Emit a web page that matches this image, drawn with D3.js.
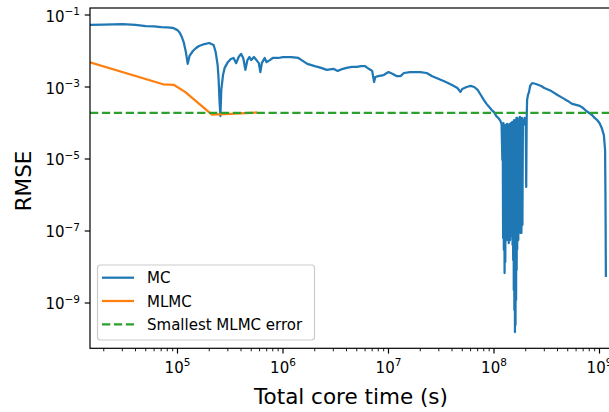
<!DOCTYPE html>
<html>
<head>
<meta charset="utf-8">
<script src="https://cdn.jsdelivr.net/npm/d3@7"></script>
<style>
  html, body { margin: 0; padding: 0; background: #fff; }
  svg { display: block; font-family: "DejaVu Sans", sans-serif; }
</style>
</head>
<body>
<svg id="chart" width="609" height="412"></svg>
<script>
// Monte Carlo run: total core time (s) against RMSE
const mcTime = [
  1.48e4, 2e4, 3e4, 4e4, 5e4, 6e4, 7e4, 8e4, 9e4,
  1e5, 1.05e5, 1.1e5, 1.15e5, 1.2e5, 1.25e5, 1.3e5, 1.4e5, 1.5e5, 1.6e5, 1.8e5,
  2e5, 2.2e5, 2.3e5, 2.4e5, 2.45e5, 2.5e5, 2.55e5, 2.6e5, 2.7e5, 2.8e5,
  3e5, 3.2e5, 3.4e5, 3.6e5, 3.8e5, 4e5, 4.2e5, 4.4e5, 4.6e5, 4.8e5,
  5e5, 5.3e5, 5.6e5, 5.9e5, 6.1e5, 6.3e5, 6.7e5, 7e5, 7.5e5, 8e5, 9e5,
  1e6, 1.2e6, 1.4e6, 1.5e6, 1.7e6, 2e6, 2.3e6, 2.6e6, 3e6, 3.3e6, 3.7e6, 4e6,
  4.5e6, 5e6, 5.5e6, 6e6, 6.5e6, 7e6, 7.3e6, 7.5e6, 8e6, 9e6,
  1e7, 1.1e7, 1.2e7, 1.3e7, 1.4e7, 1.6e7, 1.8e7, 2e7, 2.3e7, 2.6e7, 3e7, 3.5e7,
  4e7, 4.5e7, 4.8e7, 5e7, 5.5e7, 6e7, 6.5e7, 7e7, 7.5e7, 8e7, 8.5e7, 9e7, 9.5e7,
  1e8, 1.05e8, 1.1e8, 1.15e8, 1.18e8,
  1.20e8, 1.21e8, 1.22e8, 1.23e8, 1.24e8, 1.25e8, 1.26e8, 1.27e8, 1.28e8, 1.29e8,
  1.30e8, 1.31e8, 1.32e8, 1.33e8, 1.34e8, 1.35e8, 1.36e8, 1.37e8, 1.38e8, 1.39e8,
  1.40e8, 1.41e8, 1.42e8, 1.43e8, 1.44e8, 1.45e8, 1.46e8, 1.47e8, 1.48e8, 1.49e8,
  1.50e8, 1.51e8, 1.52e8, 1.53e8, 1.54e8, 1.55e8, 1.56e8, 1.57e8, 1.58e8, 1.59e8,
  1.60e8, 1.61e8, 1.62e8, 1.63e8, 1.64e8, 1.65e8, 1.66e8, 1.67e8, 1.68e8, 1.69e8,
  1.70e8, 1.72e8, 1.74e8, 1.76e8, 1.78e8, 1.80e8, 1.82e8, 1.84e8, 1.86e8, 1.88e8,
  1.90e8, 1.95e8, 2.00e8, 2.02e8, 2.04e8, 2.06e8, 2.10e8, 2.15e8, 2.20e8, 2.30e8,
  2.5e8, 2.8e8, 3e8, 3.5e8, 4e8, 4.5e8, 5e8, 5.5e8, 6e8, 6.5e8,
  7e8, 7.5e8, 8e8, 8.5e8, 9e8, 9.5e8, 1e9, 1.05e9, 1.1e9, 1.13e9, 1.14e9, 1.15e9
];
const mcRmse = [
  5.3e-2, 5.4e-2, 5.6e-2, 5.3e-2, 4.9e-2, 4.8e-2, 4.6e-2, 4.5e-2, 4.4e-2,
  3.8e-2, 3.2e-2, 2.45e-2, 1.67e-2, 9.4e-3, 4.4e-3, 7.3e-3, 1.0e-2, 1.21e-2, 1.38e-2, 1.56e-2,
  1.67e-2, 1.47e-2, 9.4e-3, 4.1e-3, 1.78e-3, 4.4e-4, 1.56e-4, 8.3e-4, 2.15e-3, 3.4e-3,
  4.9e-3, 6.0e-3, 6.4e-3, 4.6e-3, 6.8e-3, 8.3e-3, 6.4e-3, 3.0e-3, 5.6e-3, 6.8e-3,
  5.6e-3, 6.8e-3, 5.6e-3, 4.6e-3, 2.6e-3, 4.6e-3, 6.4e-3, 4.9e-3, 5.6e-3, 6.4e-3, 6.4e-3,
  6.8e-3, 6.8e-3, 6.4e-3, 5.6e-3, 4.4e-3, 3.8e-3, 3.4e-3, 3.0e-3, 3.2e-3, 2.8e-3, 3.2e-3, 3.4e-3,
  3.6e-3, 3.6e-3, 3.8e-3, 3.8e-3, 3.2e-3, 2.8e-3, 1.38e-3, 1.9e-3, 2.0e-3, 2.15e-3,
  2.6e-3, 2.3e-3, 2.0e-3, 2.0e-3, 2.45e-3, 2.6e-3, 2.6e-3, 2.6e-3, 2.45e-3, 2.0e-3, 1.67e-3, 1.38e-3,
  1.14e-3, 9.4e-4, 7.3e-4, 8.8e-4, 1.0e-3, 1.07e-3, 1.0e-3, 8.3e-4, 6.0e-4, 4.4e-4, 3.4e-4, 2.8e-4, 2.3e-4,
  2.0e-4, 1.56e-4, 1.38e-4, 1.14e-4, 9.4e-5,
  9.4e-6, 8.8e-5, 6.4e-8, 1.0e-4, 3.0e-8, 8.3e-5, 6.8e-9, 7.3e-5, 1.38e-8, 8.8e-5,
  1.07e-7, 7.7e-5, 5.6e-8, 9.4e-5, 7.7e-8, 8.3e-5, 1.0e-7, 8.8e-5, 4.6e-8, 7.7e-5,
  6.4e-8, 9.4e-5, 5.6e-8, 8.3e-5, 7.3e-8, 1.0e-4, 1.0e-7, 8.8e-5, 1.21e-7, 1.07e-4,
  4.1e-8, 9.4e-5, 1.56e-8, 1.07e-4, 2.3e-9, 1.21e-4, 6.4e-10, 1.14e-4, 1.56e-10, 1.0e-4,
  2.45e-10, 1.21e-4, 1.21e-9, 1.38e-4, 8.3e-9, 1.14e-4, 3.0e-8, 1.38e-4, 6.4e-8, 1.07e-4,
  5.6e-8, 1.21e-4, 1.0e-7, 1.47e-4, 8.8e-8, 1.29e-4, 8.8e-8, 1.38e-4, 1.47e-7, 1.21e-4,
  8.8e-5, 1.38e-4, 1.21e-4, 1.67e-6, 1.21e-4, 4.4e-4, 6.0e-4, 7.3e-4, 1.07e-3, 1.29e-3,
  1.21e-3, 1.07e-3, 9.4e-4, 7.7e-4, 6.0e-4, 4.9e-4, 4.1e-4, 3.4e-4, 3.2e-4, 3.0e-4,
  2.6e-4, 2.15e-4, 1.9e-4, 1.67e-4, 1.38e-4, 1.21e-4, 1.0e-4, 7.3e-5, 4.6e-5, 1.78e-5, 7.3e-7, 5.3e-9
];

// Multilevel Monte Carlo run
const mlmcTime = [1.48e4, 7.29e4, 9.27e4, 1.18e5, 2.12e5, 3.15e5, 5.67e5];
const mlmcRmse = [4.86e-3, 1.19e-3, 1.14e-3, 7.3e-4, 1.72e-4, 1.78e-4, 1.96e-4];

// Reference level: smallest error reached by MLMC
const smallestMlmcError = 1.9e-4;

const xMajorTicks = [1e5, 1e6, 1e7, 1e8, 1e9];
const xTickExponents = ["5", "6", "7", "8", "9"];
const yMajorTicks = [1e-1, 1e-3, 1e-5, 1e-7, 1e-9];
const yTickExponents = ["\u22121", "\u22123", "\u22125", "\u22127", "\u22129"];

const seriesNames = ["MC", "MLMC", "Smallest MLMC error"];
const seriesColors = ["#1f77b4", "#ff7f0e", "#2ca02c"];

const svg = d3.select("#chart");
const plot = { left: 90, right: 612, top: 8, bottom: 348.3 };

const x = d3.scaleLog().domain([1.481e4, 1.314e9]).range([plot.left, plot.right]);
const y = d3.scaleLog().domain([0.1565, 5.515e-11]).range([plot.top, plot.bottom]);

svg.append("defs").append("clipPath").attr("id", "plotClip")
  .append("rect")
  .attr("x", plot.left).attr("y", plot.top)
  .attr("width", plot.right - plot.left).attr("height", plot.bottom - plot.top);

const dataLayer = svg.append("g").attr("clip-path", "url(#plotClip)");

const line = d3.line().x(d => x(d[0])).y(d => y(d[1]));

const mcPoints = mcTime.map((t, i) => [t, mcRmse[i]]);
const mlmcPoints = mlmcTime.map((t, i) => [t, mlmcRmse[i]]);

dataLayer.append("path")
  .datum(mcPoints)
  .attr("d", line)
  .attr("fill", "none")
  .attr("stroke", seriesColors[0])
  .attr("stroke-width", 2.25)
  .attr("stroke-linejoin", "round");

dataLayer.append("path")
  .datum(mlmcPoints)
  .attr("d", line)
  .attr("fill", "none")
  .attr("stroke", seriesColors[1])
  .attr("stroke-width", 2.25)
  .attr("stroke-linejoin", "round");

dataLayer.append("line")
  .attr("x1", plot.left).attr("x2", plot.right)
  .attr("y1", y(smallestMlmcError)).attr("y2", y(smallestMlmcError))
  .attr("stroke", seriesColors[2])
  .attr("stroke-width", 2.25)
  .attr("stroke-dasharray", "8.3,3.6");

// Axes frame
svg.append("rect")
  .attr("x", plot.left).attr("y", plot.top)
  .attr("width", plot.right - plot.left).attr("height", plot.bottom - plot.top)
  .attr("fill", "none").attr("stroke", "#000").attr("stroke-width", 1.2);

// X axis: major and minor ticks
const xMinor = x.ticks().filter(v => !xMajorTicks.some(m => Math.abs(m - v) / m < 1e-9));
const xAxisG = svg.append("g");
xAxisG.selectAll("line.minor").data(xMinor).join("line")
  .attr("class", "minor")
  .attr("x1", d => x(d)).attr("x2", d => x(d))
  .attr("y1", plot.bottom).attr("y2", plot.bottom + 3)
  .attr("stroke", "#000").attr("stroke-width", 0.9);
xAxisG.selectAll("line.major").data(xMajorTicks).join("line")
  .attr("class", "major")
  .attr("x1", d => x(d)).attr("x2", d => x(d))
  .attr("y1", plot.bottom).attr("y2", plot.bottom + 5.25)
  .attr("stroke", "#000").attr("stroke-width", 1.2);
const xLabels = xAxisG.selectAll("text").data(xMajorTicks).join("text")
  .attr("x", d => x(d)).attr("y", 372.5)
  .attr("text-anchor", "middle")
  .attr("font-size", 15)
  .attr("fill", "#000");
xLabels.append("tspan").text("10");
xLabels.append("tspan").attr("font-size", 10.5).attr("dy", -6.5)
  .text((d, i) => xTickExponents[i]);

// Y axis: major ticks
const yAxisG = svg.append("g");
yAxisG.selectAll("line").data(yMajorTicks).join("line")
  .attr("x1", plot.left - 5.25).attr("x2", plot.left)
  .attr("y1", d => y(d)).attr("y2", d => y(d))
  .attr("stroke", "#000").attr("stroke-width", 1.2);
const yLabels = yAxisG.selectAll("text").data(yMajorTicks).join("text")
  .attr("x", 80).attr("y", d => y(d) + 6.5)
  .attr("text-anchor", "end")
  .attr("font-size", 15)
  .attr("fill", "#000");
yLabels.append("tspan").text("10");
yLabels.append("tspan").attr("font-size", 10.5).attr("dy", -6.5)
  .text((d, i) => yTickExponents[i]);

// Axis titles
svg.append("text")
  .attr("x", 351).attr("y", 404)
  .attr("text-anchor", "middle")
  .attr("font-size", 21.5)
  .attr("fill", "#000")
  .text("Total core time (s)");

svg.append("text")
  .attr("transform", "translate(31,181) rotate(-90)")
  .attr("text-anchor", "middle")
  .attr("font-size", 21.5)
  .attr("fill", "#000")
  .text("RMSE");

// Legend
const legend = svg.append("g");
legend.append("rect")
  .attr("x", 97.5).attr("y", 265)
  .attr("width", 217).attr("height", 75)
  .attr("rx", 3).attr("ry", 3)
  .attr("fill", "#fff").attr("fill-opacity", 0.8)
  .attr("stroke", "#cccccc").attr("stroke-width", 1.2);

const legendRows = [277.7, 301, 324.3];
seriesNames.forEach((name, i) => {
  legend.append("line")
    .attr("x1", 102).attr("x2", 134)
    .attr("y1", legendRows[i]).attr("y2", legendRows[i])
    .attr("stroke", seriesColors[i])
    .attr("stroke-width", 2.25)
    .attr("stroke-dasharray", i === 2 ? "8.3,3.6" : null);
  legend.append("text")
    .attr("x", 147).attr("y", legendRows[i] + 5.5)
    .attr("font-size", 15)
    .attr("fill", "#000")
    .text(name);
});
</script>
</body>
</html>
